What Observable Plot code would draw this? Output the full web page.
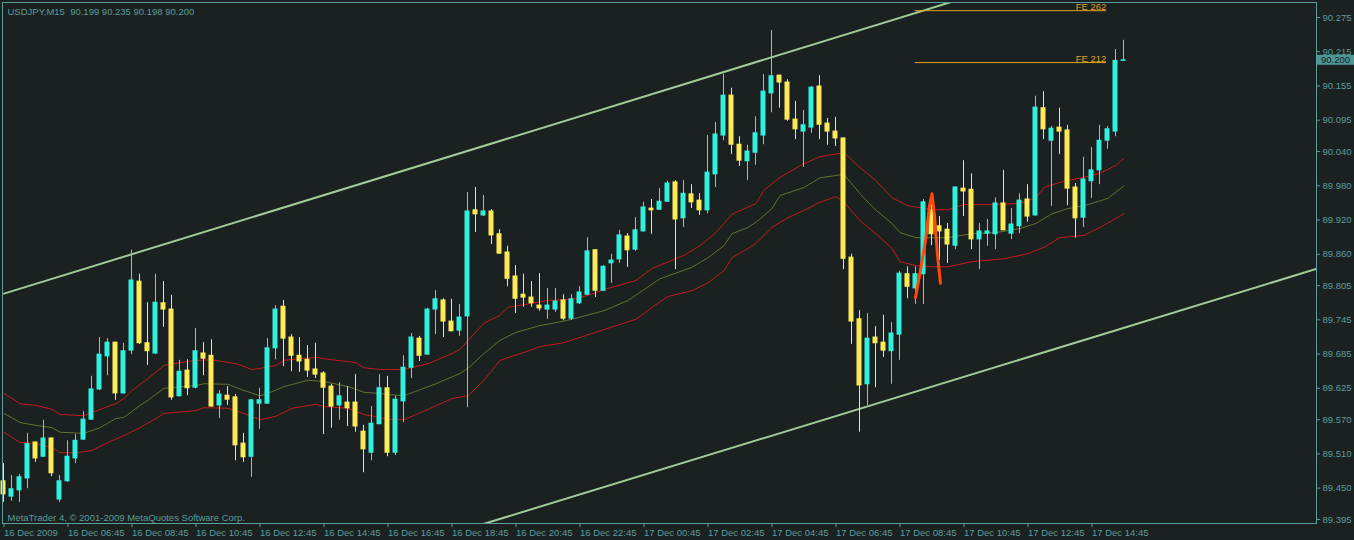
<!DOCTYPE html>
<html><head><meta charset="utf-8">
<script src="https://cdn.jsdelivr.net/npm/d3@7"></script>
<script src="https://cdn.jsdelivr.net/npm/@observablehq/plot@0.6"></script>
<style>
html,body{margin:0;padding:0;background:#1b2021;overflow:hidden;}
#chart svg{display:block;}
</style></head><body><div id="chart"></div>
<script>
// ---- candle data (USDJPY M15, index 0 = 16 Dec 2009 04:45) ----
const open = [89.462,89.435,89.446,89.467,89.530,89.505,89.537,89.430,89.462,89.502,89.535,89.570,89.623,89.681,89.705,89.616,89.691,89.812,89.704,89.686,89.774,89.763,89.611,89.656,89.626,89.686,89.682,89.595,89.612,89.609,89.528,89.505,89.598,89.598,89.695,89.768,89.714,89.682,89.675,89.658,89.651,89.628,89.595,89.600,89.600,89.549,89.512,89.562,89.625,89.512,89.602,89.661,89.712,89.684,89.763,89.779,89.742,89.726,89.751,89.937,89.928,89.935,89.895,89.863,89.821,89.789,89.784,89.770,89.763,89.763,89.779,89.747,89.774,89.789,89.867,89.796,89.844,89.851,89.891,89.868,89.900,89.940,89.938,89.952,89.986,89.923,89.965,89.954,89.937,90.000,90.068,90.138,90.052,90.023,90.038,90.068,90.142,90.173,90.161,90.096,90.075,90.082,90.154,90.089,90.075,90.063,89.854,89.746,89.632,89.714,89.705,89.690,89.719,89.825,89.800,89.825,89.937,89.909,89.903,89.875,89.975,89.973,89.886,89.896,89.895,89.949,89.896,89.909,89.956,89.928,90.116,90.059,90.082,90.077,89.977,89.924,89.988,90.007,90.059,90.075,90.199];
const high = [89.493,89.472,89.474,89.546,89.531,89.569,89.538,89.472,89.533,89.544,89.584,89.646,89.714,89.712,89.706,89.704,89.867,89.825,89.775,89.825,89.812,89.788,89.674,89.675,89.730,89.705,89.710,89.621,89.628,89.614,89.546,89.605,89.625,89.712,89.770,89.779,89.719,89.714,89.700,89.704,89.654,89.632,89.635,89.628,89.649,89.560,89.593,89.649,89.646,89.611,89.682,89.721,89.716,89.765,89.796,89.782,89.781,89.772,89.968,89.977,89.963,89.938,89.903,89.874,89.840,89.825,89.812,89.826,89.800,89.800,89.789,89.789,89.803,89.889,89.868,89.840,89.860,89.902,89.896,89.924,89.951,89.956,89.975,89.988,89.989,89.989,89.982,89.966,90.068,90.091,90.175,90.151,90.066,90.051,90.101,90.175,90.252,90.174,90.166,90.128,90.112,90.154,90.173,90.098,90.100,90.064,89.860,89.761,89.756,89.733,89.753,89.740,89.830,89.838,89.838,89.956,89.954,89.926,89.914,89.978,90.024,90.001,89.914,89.921,89.959,90.007,89.940,89.966,89.982,90.137,90.145,90.084,90.116,90.086,89.984,90.030,90.047,90.086,90.084,90.219,90.235];
const low = [89.425,89.427,89.425,89.449,89.495,89.504,89.470,89.425,89.460,89.493,89.534,89.569,89.621,89.647,89.604,89.615,89.684,89.702,89.665,89.684,89.732,89.604,89.610,89.612,89.624,89.647,89.592,89.572,89.595,89.498,89.495,89.469,89.553,89.597,89.675,89.663,89.654,89.653,89.644,89.642,89.544,89.555,89.569,89.558,89.548,89.477,89.498,89.561,89.505,89.507,89.565,89.642,89.672,89.683,89.719,89.714,89.724,89.716,89.591,89.898,89.926,89.877,89.860,89.803,89.756,89.767,89.767,89.760,89.746,89.758,89.744,89.744,89.772,89.788,89.784,89.795,89.809,89.844,89.837,89.865,89.899,89.895,89.937,89.951,89.833,89.907,89.940,89.928,89.931,89.977,90.059,90.035,90.014,89.989,90.016,90.052,90.108,90.116,90.093,90.061,90.012,90.072,90.061,90.051,90.049,89.833,89.702,89.548,89.595,89.626,89.679,89.632,89.674,89.782,89.772,89.772,89.875,89.849,89.844,89.868,89.926,89.868,89.833,89.874,89.868,89.901,89.886,89.896,89.916,89.927,90.061,89.944,90.035,89.945,89.888,89.907,89.958,89.982,90.044,90.066,90.198];
const close = [89.439,89.448,89.469,89.527,89.502,89.537,89.476,89.462,89.505,89.533,89.570,89.623,89.684,89.705,89.616,89.690,89.814,89.704,89.690,89.775,89.763,89.609,89.654,89.625,89.690,89.677,89.593,89.614,89.605,89.525,89.504,89.604,89.604,89.695,89.763,89.712,89.682,89.672,89.656,89.649,89.626,89.593,89.611,89.590,89.558,89.518,89.563,89.625,89.512,89.605,89.661,89.714,89.682,89.763,89.781,89.742,89.725,89.749,89.935,89.930,89.935,89.893,89.861,89.817,89.782,89.784,89.774,89.765,89.770,89.777,89.747,89.781,89.793,89.865,89.796,89.838,89.849,89.893,89.867,89.902,89.942,89.937,89.952,89.984,89.921,89.966,89.951,89.937,90.003,90.070,90.138,90.052,90.024,90.040,90.072,90.145,90.172,90.161,90.096,90.079,90.086,90.152,90.087,90.075,90.063,89.852,89.742,89.630,89.712,89.704,89.691,89.721,89.826,89.803,89.825,89.951,89.895,89.900,89.877,89.977,89.970,89.886,89.900,89.900,89.949,89.902,89.912,89.954,89.926,90.117,90.079,90.080,90.075,89.975,89.923,89.991,90.007,90.059,90.079,90.199,90.200];

// ---- envelope lines (bar index, price) ----
const upperIdx = [0,2,4,6,7,10,12,14,15,16,18,20,22,24,26,29,31,32,34,35,37,39,41,44,45,47,50,53,56,57,58,60,62,63,66,68,71,73,75,79,81,85,87,89,91,94,95,97,100,102,105,107,109,111,113,116,118,120,123,127,129,130,132,135,137,139,140];
const upperVal = [89.616,89.598,89.595,89.588,89.579,89.577,89.588,89.598,89.607,89.621,89.642,89.665,89.670,89.674,89.675,89.668,89.658,89.660,89.665,89.674,89.677,89.679,89.675,89.670,89.661,89.658,89.658,89.668,89.686,89.693,89.709,89.739,89.753,89.767,89.774,89.779,89.781,89.788,89.798,89.814,89.835,89.858,89.875,89.898,89.930,89.949,89.972,89.995,90.019,90.031,90.038,90.012,89.989,89.959,89.945,89.938,89.938,89.947,89.947,89.949,89.959,89.977,89.986,89.995,90.002,90.016,90.028];
const midIdx = [0,2,4,6,7,10,12,14,15,17,18,20,24,25,28,30,32,33,35,38,40,43,45,47,48,50,54,57,58,60,62,64,67,69,71,75,78,82,86,88,90,91,93,94,96,97,100,102,105,107,109,111,112,114,116,118,121,124,127,129,131,133,135,138,140];
const midVal = [89.581,89.565,89.560,89.556,89.548,89.546,89.556,89.572,89.574,89.595,89.604,89.625,89.630,89.633,89.632,89.621,89.612,89.616,89.628,89.639,89.637,89.628,89.618,89.616,89.614,89.612,89.633,89.651,89.660,89.686,89.709,89.723,89.735,89.740,89.746,89.761,89.779,89.817,89.837,89.854,89.875,89.896,89.907,89.916,89.940,89.963,89.977,89.994,90.000,89.966,89.937,89.914,89.898,89.889,89.889,89.889,89.896,89.898,89.905,89.914,89.931,89.940,89.945,89.958,89.980];
const lowIdx = [0,2,4,6,7,9,11,13,15,17,19,20,24,25,28,30,32,34,36,39,40,43,45,47,48,50,53,56,58,60,62,65,67,70,75,79,81,83,86,88,90,91,93,94,96,98,100,102,104,105,107,109,111,112,114,116,118,121,125,128,130,132,135,137,139,140];
const lowVal = [89.548,89.530,89.528,89.521,89.512,89.512,89.516,89.530,89.542,89.556,89.572,89.581,89.586,89.591,89.590,89.581,89.570,89.576,89.590,89.597,89.593,89.590,89.579,89.574,89.570,89.570,89.588,89.607,89.612,89.639,89.674,89.688,89.698,89.705,89.728,89.746,89.767,89.786,89.796,89.810,89.831,89.854,89.870,89.879,89.907,89.924,89.937,89.951,89.961,89.951,89.919,89.896,89.870,89.847,89.840,89.838,89.838,89.847,89.852,89.861,89.872,89.889,89.893,89.907,89.923,89.931];

// ---- channel trendlines (bar index, price) ----
const chanUpIdx = [0, 164];
const chanUpVal = [89.791, 90.499];
const chanLoIdx = [55, 164];
const chanLoVal = [89.366, 89.834];

// ---- hand-drawn squiggle (bar index, price) ----
const swirlIdx = [113.94,114.56,115.19,115.69,116.0,116.31,116.69,117.06];
const swirlVal = [89.784,89.832,89.884,89.945,89.966,89.928,89.858,89.809];

// ---- Fibonacci expansion levels ----
const feLabels = ["FE 262","FE 212"];
const feLevels = [90.287, 90.196];
const feStart = [113.9, 113.9];
const feEnd = [137.8, 137.8];

// ---- axes ----
const yTicks = [90.275,90.215,90.155,90.095,90.040,89.980,89.920,89.860,89.805,89.745,89.685,89.625,89.570,89.510,89.450,89.395];
const xTicks = [0,8,16,24,32,40,48,56,64,72,80,88,96,104,112,120,128,136];
const xLabels = ["16 Dec 2009","16 Dec 06:45","16 Dec 08:45","16 Dec 10:45","16 Dec 12:45","16 Dec 14:45","16 Dec 16:45","16 Dec 18:45","16 Dec 20:45","16 Dec 22:45","17 Dec 00:45","17 Dec 02:45","17 Dec 04:45","17 Dec 06:45","17 Dec 08:45","17 Dec 10:45","17 Dec 12:45","17 Dec 14:45"];
const titleText = "USDJPY,M15  90.199 90.235 90.198 90.200";
const footText = "MetaTrader 4, \u00a9 2001-2009 MetaQuotes Software Corp.";
const lastPrice = 90.200;

const BG="#1b2021", AX="#5a9e9e", CYAN="#33f0dd", YEL="#ffeb57", RED="#c41c1c", OLIVE="#67702e", CH="#a0cc96", FE="#e0a020", SWIRL="#ff4a0a";

const candles = open.map((o,i)=>({i, o, h:high[i], l:low[i], c:close[i]}));
const ups = candles.filter(d=>d.c>=d.o), downs = candles.filter(d=>d.c<d.o);
const pts = (ix, vs) => ix.map((i,k)=>({i, v:vs[k]}));
const fe = feLabels.map((t,k)=>({t, y:feLevels[k], x1:feStart[k], x2:feEnd[k]}));

const body = (data, color) => Plot.rect(data, {x1:d=>d.i-0.3125, x2:d=>d.i+0.3125, y1:"o", y2:"c", fill:color, dx:-0.5, insetTop:-0.5, insetBottom:-0.5});
const wick = (data, color) => Plot.ruleX(data, {x:"i", y1:"l", y2:"h", stroke:color, strokeWidth:1, dx:-0.5});

const chart = Plot.plot({
  width:1354, height:540,
  marginLeft:2, marginRight:38, marginTop:2, marginBottom:17,
  style:{background:BG, color:AX, fontFamily:"'Liberation Sans', Arial, sans-serif", fontSize:"9.5px"},
  x:{domain:[-0.1875, 164.0625]},
  y:{domain:[89.38798, 90.3013]},
  marks:[
    Plot.line(pts(chanUpIdx, chanUpVal), {x:"i", y:"v", stroke:CH, strokeWidth:2, clip:true}),
    Plot.line(pts(chanLoIdx, chanLoVal), {x:"i", y:"v", stroke:CH, strokeWidth:2, clip:true}),
    Plot.line(pts(upperIdx, upperVal), {x:"i", y:"v", stroke:RED, strokeWidth:1}),
    Plot.line(pts(midIdx, midVal), {x:"i", y:"v", stroke:OLIVE, strokeWidth:1}),
    Plot.line(pts(lowIdx, lowVal), {x:"i", y:"v", stroke:RED, strokeWidth:1}),
    wick(ups, CYAN), wick(downs, YEL),
    body(ups, CYAN), body(downs, YEL),
    Plot.line(pts(swirlIdx, swirlVal), {x:"i", y:"v", stroke:SWIRL, strokeWidth:3, strokeLinejoin:"round"}),
    Plot.ruleY(fe, {y:"y", x1:"x1", x2:"x2", stroke:FE, strokeWidth:1}),
    Plot.text(fe, {x:"x2", y:"y", text:"t", textAnchor:"end", lineAnchor:"bottom", dy:-1, fill:FE, clip:true}),
    Plot.frame({stroke:AX}),
    Plot.axisY(yTicks, {anchor:"right", tickSize:3, tickPadding:3, tickFormat:d3.format(".3f"), label:null}),
    Plot.axisX(xTicks, {anchor:"bottom", tickSize:4, tickPadding:2, textAnchor:"start", tickFormat:d=>xLabels[xTicks.indexOf(d)], label:null}),
    Plot.text([titleText], {frameAnchor:"top-left", dx:5, dy:6, lineAnchor:"top", fill:AX}),
    Plot.text([footText], {frameAnchor:"bottom-left", dx:5, dy:-3, lineAnchor:"bottom", fill:AX})
  ]
});

// current-price box on the right scale
const ys = chart.scale("y");
const py = ys.apply(lastPrice);
const g = d3.select(chart).append("g").attr("text-anchor","start");
g.append("rect").attr("x",1317).attr("y",py-5).attr("width",37).attr("height",10).attr("fill","#4f9696");
g.append("text").attr("x",1321).attr("y",py+3.5).attr("text-anchor","start").attr("fill","#13201f").attr("font-size","9.5px").text(d3.format(".3f")(lastPrice));

document.getElementById("chart").appendChild(chart);
</script></body></html>
